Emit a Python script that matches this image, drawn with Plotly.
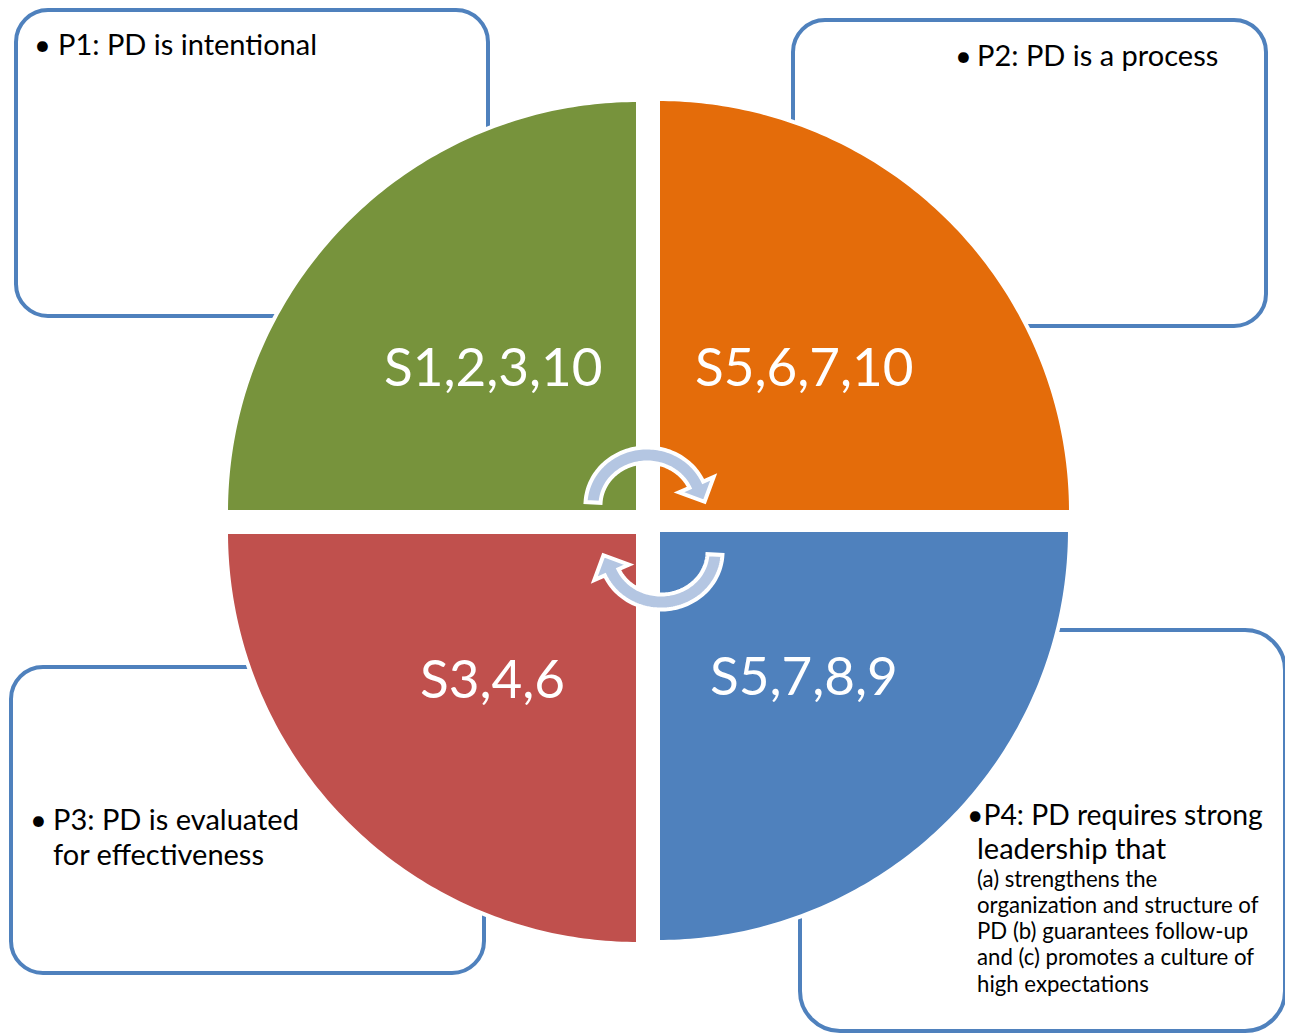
import numpy as np
import plotly.graph_objects as go

W, H = 1293, 1034
OFF = 8  # page body margin of the browser

# ---- content ----
quadrant_labels = ["S1,2,3,10", "S5,6,7,10", "S3,4,6", "S5,7,8,9"]
quadrant_colors = ["#77933C", "#E46C0A", "#C0504D", "#4F81BD"]

p1_lines = ["P1: PD is intentional"]
p2_lines = ["P2: PD is a process"]
p3_lines = ["P3: PD is evaluated", "for effectiveness"]
p4_main_lines = ["•P4: PD requires strong", "leadership that"]
p4_detail_lines = ["(a) strengthens the", "organization and structure of",
                   "PD (b) guarantees follow-up", "and (c) promotes a culture of",
                   "high expectations"]

# ---- geometry (pixel space) ----
quad_geom = [(638, 512, 90, 180, 412), (658, 512, 0, 90, 413),
             (638, 532, 180, 270, 412), (658, 530, 270, 360, 412)]
quad_label_pos = [(493, 365), (804, 365), (492, 677), (804, 674)]

boxes = [(16, 10, 488, 316, 32), (793, 20, 1266, 326, 32),
         (11, 667, 484, 973, 32), (800, 630, 1285, 1031, 40)]

BOX_COLOR = "#4F81BD"
ARROW_FILL = "#B4C6E2"
FONT = "Lato"

fig = go.Figure()
shapes = []


def rounded_rect(x0, y0, x1, y1, r):
    k = 0.5523 * r
    return (f"M{x0+r},{y0} L{x1-r},{y0} C{x1-r+k},{y0} {x1},{y0+r-k} {x1},{y0+r} "
            f"L{x1},{y1-r} C{x1},{y1-r+k} {x1-r+k},{y1} {x1-r},{y1} "
            f"L{x0+r},{y1} C{x0+r-k},{y1} {x0},{y1-r+k} {x0},{y1-r} "
            f"L{x0},{y0+r} C{x0},{y0+r-k} {x0+r-k},{y0} {x0+r},{y0} Z")


for (x0, y0, x1, y1, r) in boxes:
    shapes.append(dict(type="path", path=rounded_rect(x0, y0, x1, y1, r),
                       xref="x", yref="y", line=dict(color=BOX_COLOR, width=4),
                       fillcolor="rgba(0,0,0,0)", layer="above"))


def poly_path(xs, ys):
    pts = " L".join(f"{x:.2f},{y:.2f}" for x, y in zip(xs, ys))
    return "M" + pts + " Z"


for (cx, cy, a0, a1, r), col in zip(quad_geom, quadrant_colors):
    th = np.radians(np.linspace(a0, a1, 120))
    xs = np.concatenate([[cx], cx + r * np.cos(th)])
    ys = np.concatenate([[cy], cy - r * np.sin(th)])
    shapes.append(dict(type="path", path=poly_path(xs, ys), xref="x", yref="y",
                       fillcolor=col, line=dict(color="white", width=4), layer="above"))


def circ_arrow(cx, cy, rx, ry, hw, th0, th1, head_hw, head_len):
    th = np.radians(np.linspace(th0, th1, 80))
    ox = cx + (rx + hw) * np.cos(th)
    oy = cy - (ry + hw) * np.sin(th)
    ix = cx + (rx - hw) * np.cos(th[::-1])
    iy = cy - (ry - hw) * np.sin(th[::-1])
    te = np.radians(th1)
    dx, dy = rx * np.sin(te), ry * np.cos(te)
    n = np.hypot(dx, dy)
    dx, dy = dx / n, dy / n
    mx, my = cx + rx * np.cos(te), cy - ry * np.sin(te)
    hox = cx + (rx + head_hw) * np.cos(te)
    hoy = cy - (ry + head_hw) * np.sin(te)
    hix = cx + (rx - head_hw) * np.cos(te)
    hiy = cy - (ry - head_hw) * np.sin(te)
    tx, ty = mx + head_len * dx, my + head_len * dy
    xs = np.concatenate([ox, [hox, tx, hix], ix])
    ys = np.concatenate([oy, [hoy, ty, hiy], iy])
    return poly_path(xs, ys)


arrows = [(647, 505, 54, 50, 7.5, 177, 24, 19, 19),
          (661, 552, 54, 50, 7.5, -3, -156, 19, 19)]
for a in arrows:
    shapes.append(dict(type="path", path=circ_arrow(*a), xref="x", yref="y",
                       fillcolor=ARROW_FILL, line=dict(color="white", width=4),
                       layer="above"))

annotations = []


def txt(text, x, y, size, color="black", anchor="left"):
    annotations.append(dict(text=text, x=x, y=y, xref="x", yref="y",
                            xanchor=anchor, yanchor="middle", showarrow=False,
                            font=dict(family=FONT, size=size, color=color)))


for lab, (x, y) in zip(quadrant_labels, quad_label_pos):
    txt(lab, x, y, 53, color="white", anchor="center")

BIG = 29
SMALL = 22.2
# P1
txt("•", 32, 43, BIG)
txt(p1_lines[0], 56, 43, BIG)
# P2
txt("•", 953, 54, BIG)
txt(p2_lines[0], 975, 54, BIG)
# P3
txt("•", 28, 818, BIG)
for i, line in enumerate(p3_lines):
    txt(line, 51, 818 + 35 * i, BIG)
# P4
txt(p4_main_lines[0], 965, 814, 28.3)
txt(p4_main_lines[1], 975, 847, BIG)
for i, line in enumerate(p4_detail_lines):
    txt(line, 975, 878 + 26.3 * i, SMALL)

fig.update_layout(
    width=W - OFF, height=H - OFF, autosize=False,
    margin=dict(l=0, r=0, t=0, b=0, pad=0),
    paper_bgcolor="white", plot_bgcolor="white",
    xaxis=dict(range=[OFF, W], visible=False, fixedrange=True),
    yaxis=dict(range=[H, OFF], visible=False, fixedrange=True),
    shapes=shapes, annotations=annotations, showlegend=False,
)

fig.write_html("out.html", config={"displayModeBar": False})
